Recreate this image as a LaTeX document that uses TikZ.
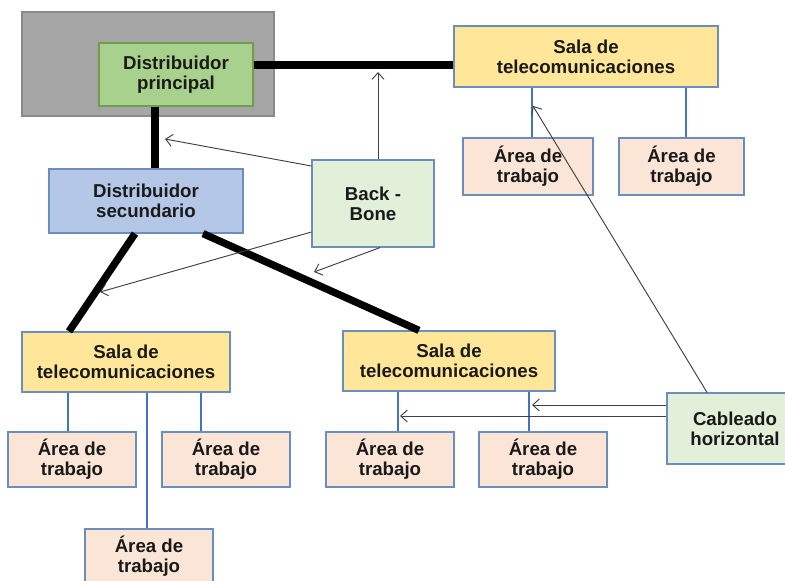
\documentclass[tikz,border=0pt]{standalone}
\usepackage{fontspec}
\setmainfont{Liberation Sans}
\usetikzlibrary{arrows.meta}
\definecolor{grayfill}{HTML}{A6A6A6}
\definecolor{grayline}{HTML}{8A8A8A}
\definecolor{dpfill}{HTML}{A9D18E}
\definecolor{dpline}{HTML}{6E9E4B}
\definecolor{dsfill}{HTML}{B4C7E7}
\definecolor{lgfill}{HTML}{E2F0D9}
\definecolor{salafill}{HTML}{FFE699}
\definecolor{areafill}{HTML}{FBE5D6}
\definecolor{boxline}{HTML}{6C8EBF}
\definecolor{blueline}{HTML}{4472C4}
\definecolor{arrowgray}{HTML}{404040}
\definecolor{txt}{HTML}{1A1A1A}
\begin{document}
\begin{tikzpicture}[x=0.75pt,y=-0.75pt]
\tikzset{
  box/.style={draw=boxline, line width=0.9pt, inner sep=0pt, align=center, text=txt,
              font=\fontsize{14}{15}\selectfont\bfseries},
  sala/.style={box, fill=salafill, minimum height=45pt},
  area/.style={box, fill=areafill, minimum width=96pt, minimum height=41.25pt},
  lgbox/.style={box, fill=lgfill},
  heavy/.style={line width=5.5pt, draw=black},
  feeder/.style={draw=blueline, line width=2.2pt},
  pointer/.style={draw=arrowgray, line width=0.7pt, -{Straight Barb[length=5pt,width=9pt]}},
}
\useasboundingbox (0,0) rectangle (785,581);
\clip (0,0) rectangle (785,581);
\fill[white] (0,0) rectangle (785,581);

% boxes
\node[fill=grayfill, draw=grayline, line width=0.8pt, inner sep=0pt,
      minimum width=189pt, minimum height=78pt] (gray) at (148,64) {};
\node[box, fill=dpfill, draw=dpline, minimum width=115.5pt, minimum height=47.25pt] (dp) at (176,74.5) {Distribuidor\\principal};
\node[box, fill=dsfill, minimum width=145.5pt, minimum height=48pt] (ds) at (146,201) {Distribuidor\\secundario};
\node[lgbox, minimum width=91.5pt, minimum height=65.25pt] (bb) at (373,203.5) {Back -\\Bone};
\node[sala, minimum width=198pt, minimum height=45.75pt] (salaT) at (586,56.5) {Sala de\\telecomunicaciones};
\node[area, minimum width=97.5pt, minimum height=42.75pt] (aT1) at (528,166.5) {Área de\\trabajo};
\node[area, minimum width=93.75pt, minimum height=42.75pt] (aT2) at (681.5,166.5) {Área de\\trabajo};
\node[sala, minimum width=156pt] (salaL) at (126,362) {Sala de\\telecomunicaciones};
\node[area] (aL1) at (72,459.5) {Área de\\trabajo};
\node[area] (aL2) at (226,459.5) {Área de\\trabajo};
\node[area] (aL3) at (149,556.5) {Área de\\trabajo};
\node[sala, minimum width=159pt] (salaM) at (449,361) {Sala de\\telecomunicaciones};
\node[area] (aM1) at (390,459.5) {Área de\\trabajo};
\node[area] (aM2) at (543,459.5) {Área de\\trabajo};
\node[lgbox, minimum width=102pt, minimum height=53.25pt] (cab) at (735,428.5) {Cableado\\horizontal};

% backbone (heavy) links
\draw[heavy] (dp.east |- 0,65) -- (salaT.west |- 0,65);
\draw[heavy] (dp.south -| 155,0) -- (ds.north -| 155,0);
\draw[heavy] (ds.south -| 135,0) -- (salaL.north -| 69,0);
\draw[heavy] (ds.south -| 203,0) -- (salaM.north -| 419,0);

% horizontal (blue) links
\draw[feeder] (salaT.south -| 532,0) -- (aT1.north -| 532,0);
\draw[feeder] (salaT.south -| 686,0) -- (aT2.north -| 686,0);
\draw[feeder] (salaL.south -| 68,0) -- (aL1.north -| 68,0);
\draw[feeder] (salaL.south -| 147,0) -- (aL3.north -| 147,0);
\draw[feeder] (salaL.south -| 201,0) -- (aL2.north -| 201,0);
\draw[feeder] (salaM.south -| 398,0) -- (aM1.north -| 398,0);
\draw[feeder] (salaM.south -| 529,0) -- (aM2.north -| 529,0);

% pointer arrows
\coordinate (pTop) at (378,72);
\coordinate (pDS) at (165,139);
\coordinate (pL) at (100,292);
\coordinate (pM) at (314,272);
\coordinate (pT) at (533,106);
\coordinate (pM2) at (532,405);
\coordinate (pM1) at (400,416);
\draw[pointer] (bb.north -| 378,0) -- (pTop);
\draw[pointer] (bb.west |- 0,166) -- (pDS);
\draw[pointer] (bb.west |- 0,232) -- (pL);
\draw[pointer] (bb.south -| 380,0) -- (pM);
\draw[pointer] (cab.north -| 707,0) -- (pT);
\draw[pointer] (cab.west |- 0,405) -- (pM2);
\draw[pointer] (cab.west |- 0,416) -- (pM1);
\end{tikzpicture}
\end{document}
